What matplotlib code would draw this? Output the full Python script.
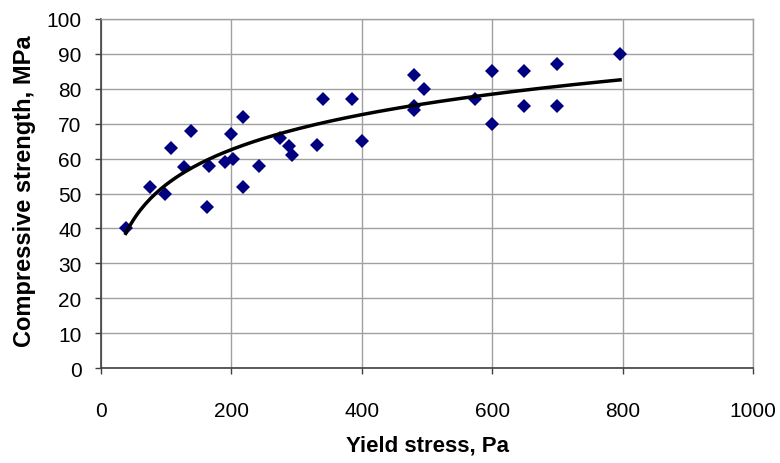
import numpy as np
import matplotlib
matplotlib.use('Agg')
import matplotlib.pyplot as plt

plt.rcParams['font.family'] = ['Liberation Sans', 'DejaVu Sans']

# yield stress (Pa) and compressive strength (MPa)
yield_stress = [38, 75, 98, 108, 127, 138, 162, 165, 190, 200, 203, 218, 218,
                243, 274, 288, 293, 331, 340, 385, 400, 480, 480, 480, 496,
                574, 600, 600, 649, 649, 700, 700, 796]
strength = [40, 52, 50, 63, 57.5, 68, 46, 58, 59, 67, 60, 72, 52,
            58, 66, 63.5, 61, 64, 77, 77, 65, 84, 75, 74, 80,
            77, 85, 70, 85, 75, 87, 75, 90]

x_ticks = [0, 200, 400, 600, 800, 1000]
y_ticks = list(range(0, 101, 10))

xs = np.array(yield_stress, dtype=float)
ys = np.array(strength, dtype=float)

# logarithmic trendline fitted to the points
a, b = np.polyfit(np.log(xs), ys, 1)
xf = np.linspace(xs.min(), xs.max(), 200)
yf = a * np.log(xf) + b

fig = plt.figure(figsize=(7.8, 4.64), dpi=100)
ax = fig.add_axes([0.1295, 0.2047, 0.836, 0.7522])

ax.plot(xs, ys, linestyle='none', marker='D', ms=7, color='#000080',
        markeredgewidth=0, zorder=3)
ax.plot(xf, yf, color='black', lw=2.5, zorder=4)

ax.set_xlim(0, 1000)
ax.set_ylim(0, 100)
ax.set_xticks(x_ticks)
ax.set_yticks(y_ticks)
ax.grid(True, color='#a0a0a0', lw=1)
ax.set_axisbelow(True)

for s in ['top', 'right']:
    ax.spines[s].set_color('#a0a0a0')
    ax.spines[s].set_linewidth(1)
for s in ['left', 'bottom']:
    ax.spines[s].set_color('#404040')
    ax.spines[s].set_linewidth(1.2)

ax.tick_params(direction='out', length=4.5, width=1, color='#404040',
               labelsize=15)
ax.tick_params(axis='y', pad=9.5)
ax.tick_params(axis='x', pad=19)

ax.set_xlabel('Yield stress, Pa', fontsize=16, fontweight='bold')
ax.set_ylabel('Compressive strength, MPa', fontsize=17, fontweight='bold')
ax.xaxis.set_label_coords(0.5, -0.19)
ax.yaxis.set_label_coords(-0.1, 0.51)

fig.savefig('out.png', dpi=100)
